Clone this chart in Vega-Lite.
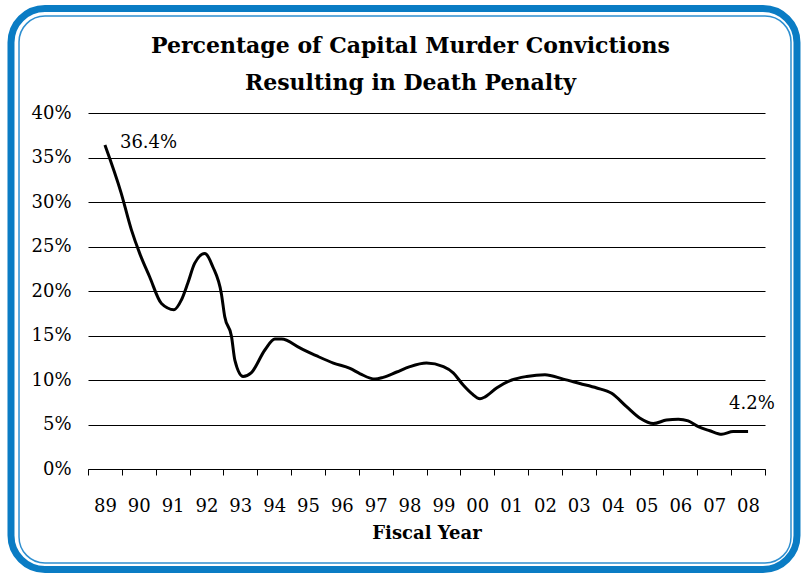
{
  "$schema": "https://vega.github.io/schema/vega-lite/v6.json",
  "width": 677,
  "height": 356,
  "autosize": {"type": "none"},
  "padding": {"left": 88, "top": 113, "right": 36, "bottom": 104},
  "background": "white",
  "config": {
    "view": {"stroke": null},
    "axisX": {"labelOverlap": false, "labelFlush": false},
    "axisY": {"labelOverlap": false}
  },
  "title": {
    "text": ["Percentage of Capital Murder Convictions", "Resulting in Death Penalty"],
    "font": "DejaVu Serif",
    "fontWeight": "bold",
    "fontSize": 22,
    "color": "black",
    "anchor": "middle",
    "frame": "group",
    "dx": -16,
    "offset": -90,
    "lineHeight": 37
  },
  "resolve": {"axis": {"x": "independent"}},
  "datasets": {
    "frame": [
      {"x1": 1986.225, "x2": 2009.445, "y1": 51.74, "y2": -11.29, "part": "outer"},
      {"x1": 1986.462, "x2": 2009.268, "y1": 50.9, "y2": -10.56, "part": "inner"}
    ],
    "series": [
      {"fy": 1989.0, "pct": 36.4},
      {"fy": 1989.48, "pct": 31.0},
      {"fy": 1989.78, "pct": 26.9},
      {"fy": 1990.03, "pct": 24.2},
      {"fy": 1990.32, "pct": 21.6},
      {"fy": 1990.67, "pct": 18.6},
      {"fy": 1991.04, "pct": 17.9},
      {"fy": 1991.26, "pct": 19.0},
      {"fy": 1991.45, "pct": 20.9},
      {"fy": 1991.65, "pct": 23.1},
      {"fy": 1991.95, "pct": 24.2},
      {"fy": 1992.19, "pct": 22.7},
      {"fy": 1992.44, "pct": 19.7},
      {"fy": 1992.54, "pct": 17.1},
      {"fy": 1992.74, "pct": 14.9},
      {"fy": 1992.84, "pct": 12.2},
      {"fy": 1993.08, "pct": 10.4},
      {"fy": 1993.32, "pct": 10.8},
      {"fy": 1993.73, "pct": 13.4},
      {"fy": 1994.02, "pct": 14.6},
      {"fy": 1994.22, "pct": 14.6},
      {"fy": 1994.76, "pct": 13.6},
      {"fy": 1995.26, "pct": 12.7},
      {"fy": 1995.75, "pct": 11.9},
      {"fy": 1996.24, "pct": 11.3},
      {"fy": 1996.54, "pct": 10.7},
      {"fy": 1996.98, "pct": 10.1},
      {"fy": 1997.22, "pct": 10.3},
      {"fy": 1997.62, "pct": 10.9},
      {"fy": 1998.01, "pct": 11.5},
      {"fy": 1998.5, "pct": 11.9},
      {"fy": 1999.0, "pct": 11.5},
      {"fy": 1999.29, "pct": 10.8},
      {"fy": 1999.59, "pct": 9.4},
      {"fy": 1999.83, "pct": 8.5},
      {"fy": 2000.08, "pct": 7.9},
      {"fy": 2000.23, "pct": 8.1},
      {"fy": 2000.57, "pct": 9.1},
      {"fy": 2001.02, "pct": 10.0},
      {"fy": 2001.46, "pct": 10.4},
      {"fy": 2002.0, "pct": 10.6},
      {"fy": 2002.54, "pct": 10.1},
      {"fy": 2003.03, "pct": 9.6},
      {"fy": 2003.53, "pct": 9.1},
      {"fy": 2003.97, "pct": 8.5},
      {"fy": 2004.41, "pct": 7.0},
      {"fy": 2004.81, "pct": 5.7},
      {"fy": 2005.2, "pct": 5.1},
      {"fy": 2005.59, "pct": 5.5},
      {"fy": 2005.94, "pct": 5.6},
      {"fy": 2006.23, "pct": 5.4},
      {"fy": 2006.53, "pct": 4.75},
      {"fy": 2006.87, "pct": 4.3},
      {"fy": 2007.22, "pct": 3.9},
      {"fy": 2007.56, "pct": 4.2},
      {"fy": 2008.0, "pct": 4.2}
    ],
    "labels": [
      {"fy": 1989.0, "pct": 36.4, "label": "36.4%", "which": "first"},
      {"fy": 2008.0, "pct": 4.2, "label": "4.2%", "which": "last"}
    ]
  },
  "layer": [
    {
      "data": {"name": "frame"},
      "transform": [{"filter": "datum.part == 'outer'"}],
      "mark": {"type": "rect", "filled": false, "stroke": "#0A7CC4", "strokeWidth": 7, "cornerRadius": 34},
      "encoding": {
        "x": {
          "field": "x1",
          "type": "quantitative",
          "scale": {"domain": [1988.5, 2008.5], "nice": false, "zero": false},
          "axis": {
            "orient": "bottom",
            "values": [1988.5, 1989.5, 1990.5, 1991.5, 1992.5, 1993.5, 1994.5, 1995.5, 1996.5, 1997.5, 1998.5, 1999.5, 2000.5, 2001.5, 2002.5, 2003.5, 2004.5, 2005.5, 2006.5, 2007.5, 2008.5],
            "labels": false,
            "grid": false,
            "domainColor": "black",
            "domainWidth": 1,
            "tickColor": "black",
            "tickWidth": 1,
            "tickSize": 6,
            "title": null
          }
        },
        "x2": {"field": "x2"},
        "y": {"field": "y1", "type": "quantitative"},
        "y2": {"field": "y2"}
      }
    },
    {
      "data": {"name": "frame"},
      "transform": [{"filter": "datum.part == 'inner'"}],
      "mark": {"type": "rect", "filled": false, "stroke": "#2E8FD0", "strokeWidth": 1.5, "cornerRadius": 26},
      "encoding": {
        "x": {"field": "x1", "type": "quantitative", "axis": null},
        "x2": {"field": "x2"},
        "y": {"field": "y1", "type": "quantitative"},
        "y2": {"field": "y2"}
      }
    },
    {
      "data": {"name": "series"},
      "mark": {"type": "line", "color": "black", "strokeWidth": 3, "interpolate": "monotone"},
      "encoding": {
        "x": {
          "field": "fy",
          "type": "quantitative",
          "axis": {
            "orient": "bottom",
            "values": [1989, 1990, 1991, 1992, 1993, 1994, 1995, 1996, 1997, 1998, 1999, 2000, 2001, 2002, 2003, 2004, 2005, 2006, 2007, 2008],
            "labelExpr": "slice(toString(round(datum.value)), 2)",
            "labelFont": "DejaVu Serif",
            "labelFontSize": 18,
            "labelColor": "black",
            "labelPadding": 28,
            "labelFlush": false,
            "labelOverlap": false,
            "ticks": false,
            "domain": false,
            "grid": false,
            "title": "Fiscal Year",
            "titleFont": "DejaVu Serif",
            "titleFontWeight": "bold",
            "titleFontSize": 18,
            "titleColor": "black",
            "titlePadding": 9
          }
        },
        "y": {
          "field": "pct",
          "type": "quantitative",
          "scale": {"domain": [0, 40], "nice": false},
          "axis": {
            "values": [0, 5, 10, 15, 20, 25, 30, 35, 40],
            "labelExpr": "datum.value + '%'",
            "labelFont": "DejaVu Serif",
            "labelFontSize": 18,
            "labelColor": "black",
            "labelPadding": 17,
            "domain": false,
            "ticks": false,
            "grid": true,
            "gridColor": "black",
            "gridWidth": 1,
            "title": null
          }
        }
      }
    },
    {
      "data": {"name": "labels"},
      "transform": [{"filter": "datum.which == 'first'"}],
      "mark": {"type": "text", "font": "DejaVu Serif", "fontSize": 18, "align": "left", "baseline": "middle", "dx": 15, "dy": -2, "color": "black"},
      "encoding": {
        "x": {"field": "fy", "type": "quantitative", "axis": null},
        "y": {"field": "pct", "type": "quantitative"},
        "text": {"field": "label"}
      }
    },
    {
      "data": {"name": "labels"},
      "transform": [{"filter": "datum.which == 'last'"}],
      "mark": {"type": "text", "font": "DejaVu Serif", "fontSize": 18, "align": "left", "baseline": "middle", "dx": -19, "dy": -28, "color": "black"},
      "encoding": {
        "x": {"field": "fy", "type": "quantitative", "axis": null},
        "y": {"field": "pct", "type": "quantitative"},
        "text": {"field": "label"}
      }
    }
  ]
}
